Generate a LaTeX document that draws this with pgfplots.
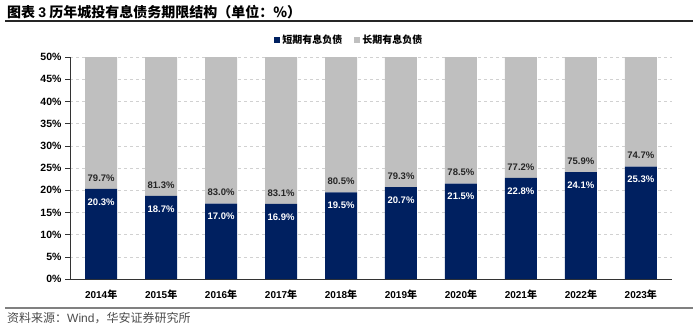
\documentclass[border=0pt]{standalone}
\usepackage{pgfplots}
\pgfplotsset{compat=1.18}
\usepackage{pgfplotstable}
\usepackage{fontspec}
\setmainfont{Liberation Sans}
\newfontfamily\cjk{Noto Sans CJK SC}
\definecolor{navy}{RGB}{0,32,96}
\definecolor{lgray}{RGB}{191,191,191}
\pgfplotstableread{
x s l
0 20.3 79.7
1 18.7 81.3
2 17.0 83.0
3 16.9 83.1
4 19.5 80.5
5 20.7 79.3
6 21.5 78.5
7 22.8 77.2
8 24.1 75.9
9 25.3 74.7
}\data
\begin{document}
\begin{tikzpicture}[x=1pt,y=1pt]
\path (0,0) rectangle (700,333);
\node[anchor=west,inner sep=0pt,font=\cjk\bfseries\fontsize{14}{16}\selectfont] at (7,320.5) {图表 {\fontspec{Liberation Sans}\bfseries 3} 历年城投有息债务期限结构（单位：\%）};
\draw[line width=1.5pt,black!85] (5,312) -- (693,312);
\begin{axis}[
  at={(70pt,54pt)}, anchor=south west,
  scale only axis, width=602pt, height=222pt,
  xmin=-0.52, xmax=9.52, ymin=0, ymax=50,
  ybar stacked, bar width=32pt,
  axis x line*=bottom, axis y line*=left,
  x axis line style={black!80, line width=0.8pt, -},
  y axis line style={black!80, line width=0.8pt, -},
  xtick=data, xtick style={draw=none},
  xticklabels={2014{\cjk 年},2015{\cjk 年},2016{\cjk 年},2017{\cjk 年},2018{\cjk 年},2019{\cjk 年},2020{\cjk 年},2021{\cjk 年},2022{\cjk 年},2023{\cjk 年}},
  x tick label style={font=\bfseries\fontsize{10}{12}\selectfont, yshift=-2pt},
  ytick={0,5,...,50},
  yticklabels={0\%,5\%,10\%,15\%,20\%,25\%,30\%,35\%,40\%,45\%,50\%},
  y tick label style={font=\bfseries\fontsize{10.5}{12}\selectfont},
  ytick style={black!80, line width=0.6pt},
  tick align=outside, major tick length=5pt,
  ymajorgrids, grid style={dashed, black!18, line width=0.6pt},
  legend columns=2,
  legend style={at={(0.334,1.077)}, anchor=west, draw=none, fill=none,
    font=\cjk\bfseries\fontsize{10}{12}\selectfont,
    /tikz/every even column/.append style={column sep=10pt}},
  legend image code/.code={\fill[#1] (0pt,-3pt) rectangle (6pt,3pt);},
]
\addplot[fill=navy, draw=none] table[x=x,y=s]{\data};
\addplot[fill=lgray, draw=none] table[x=x,y=l]{\data};
\legend{短期有息负债,长期有息负债}
\end{axis}
\begin{axis}[
  at={(70pt,54pt)}, anchor=south west,
  scale only axis, width=602pt, height=222pt,
  xmin=-0.52, xmax=9.52, ymin=0, ymax=50,
  hide axis, clip=false,
]
\addplot[draw=none, mark=none, point meta=explicit,
  nodes near coords={\pgfmathprintnumber[fixed,fixed zerofill,precision=1,assume math mode=true]{\pgfplotspointmeta}\%},
  nodes near coords style={anchor=center, yshift=-13pt, text=white, font=\bfseries\fontsize{9.5}{11}\selectfont}]
  table[x=x,y=s,meta=s]{\data};
\addplot[draw=none, mark=none, point meta=explicit,
  nodes near coords={\pgfmathprintnumber[fixed,fixed zerofill,precision=1,assume math mode=true]{\pgfplotspointmeta}\%},
  nodes near coords style={anchor=center, yshift=11pt, text=black!85, font=\bfseries\fontsize{9.5}{11}\selectfont}]
  table[x=x,y=s,meta=l]{\data};
\end{axis}
\draw[line width=2pt,black!50] (5,25) -- (693,25);
\node[anchor=west,inner sep=0pt,text=black!70,font=\cjk\fontsize{12}{14}\selectfont] at (7,15) {资料来源：{\fontspec{Liberation Sans}Wind}，华安证券研究所};
\end{tikzpicture}
\end{document}
